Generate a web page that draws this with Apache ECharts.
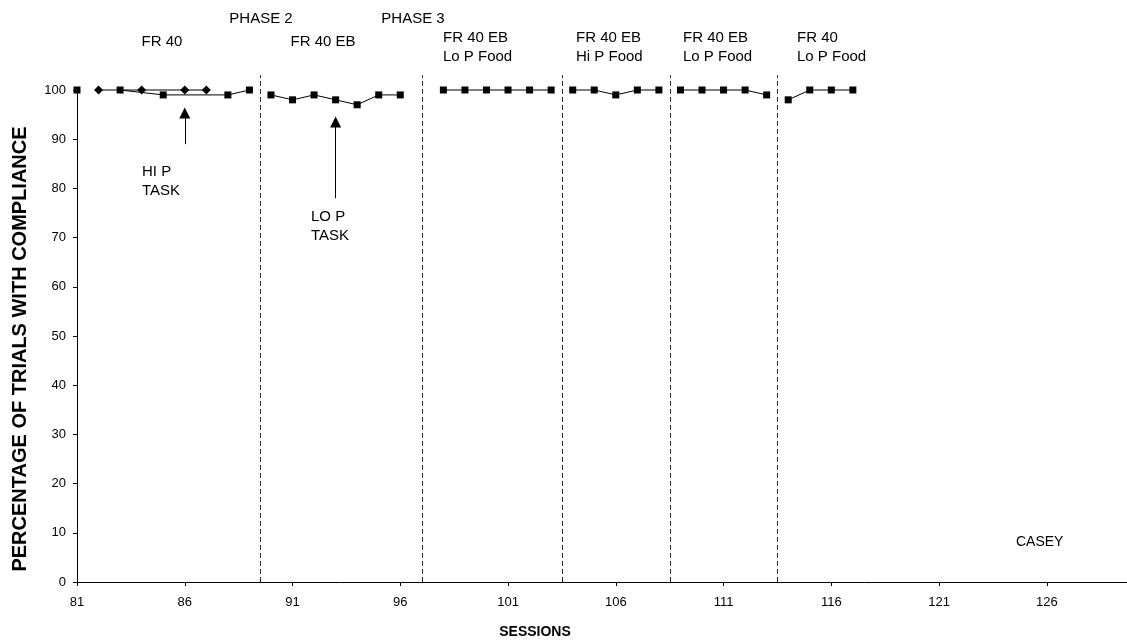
<!DOCTYPE html>
<html>
<head>
<meta charset="utf-8">
<script src="https://cdn.jsdelivr.net/npm/echarts@6/dist/echarts.min.js"></script>
<style>
html,body{margin:0;padding:0;background:#fff;}
#c{width:1127px;height:644px;}
</style>
</head>
<body>
<div id="c"></div>
<script>
// ---- data ----
const xTickStart = 81;
const xTickStep = 5;
const yTicks = [0, 10, 20, 30, 40, 50, 60, 70, 80, 90, 100];

const baselineSessions = [81];
const baselineValues = [100];

const hiPSessions = [82, 84, 86, 87];
const hiPValues = [100, 100, 100, 100];

const loPSessions = [83, 85, 88, 89];
const loPValues = [100, 99, 99, 100];

const phase2Sessions = [90, 91, 92, 93, 94, 95, 96];
const phase2Values = [99, 98, 99, 98, 97, 99, 99];

const loFoodEBSessions = [98, 99, 100, 101, 102, 103];
const loFoodEBValues = [100, 100, 100, 100, 100, 100];

const hiFoodEBSessions = [104, 105, 106, 107, 108];
const hiFoodEBValues = [100, 100, 99, 100, 100];

const loFoodEB2Sessions = [109, 110, 111, 112, 113];
const loFoodEB2Values = [100, 100, 100, 100, 99];

const loFoodSessions = [114, 115, 116, 117];
const loFoodValues = [98, 100, 100, 100];

const phaseLineSessions = [89.5, 97, 103.5, 108.5, 113.5];
const phaseLineTop = 103;

// arrows: [session, fromValue, toValue]
const hiPArrow = [86, 89, 95.3];
const loPArrow = [93, 78, 93.5];

// ---- chart ----
const FONT = '"Liberation Sans", Arial, sans-serif';
const zip = (xs, ys) => xs.map((x, i) => [x, ys[i]]);

function lineSeries(xs, ys, symbol, size) {
  return {
    type: 'line',
    data: zip(xs, ys),
    symbol: symbol,
    symbolSize: size,
    showSymbol: true,
    clip: false,
    animation: false,
    lineStyle: { color: '#000', width: 1 },
    itemStyle: { color: '#000', borderWidth: 0 },
    emphasis: { disabled: true },
    z: 3
  };
}

const chart = echarts.init(document.getElementById('c'), null, { renderer: 'canvas' });

const series = [
  lineSeries(baselineSessions, baselineValues, 'rect', 7),
  lineSeries(hiPSessions, hiPValues, 'diamond', 9),
  lineSeries(loPSessions, loPValues, 'rect', 7),
  lineSeries(phase2Sessions, phase2Values, 'rect', 7),
  lineSeries(loFoodEBSessions, loFoodEBValues, 'rect', 7),
  lineSeries(hiFoodEBSessions, hiFoodEBValues, 'rect', 7),
  lineSeries(loFoodEB2Sessions, loFoodEB2Values, 'rect', 7),
  lineSeries(loFoodSessions, loFoodValues, 'rect', 7),
  // phase change lines (dashed, reaching slightly above the 100 level)
  {
    type: 'custom',
    clip: false,
    animation: false,
    silent: true,
    data: phaseLineSessions.map(s => [s, 0]),
    encode: { x: 0, y: 1 },
    renderItem: function (params, api) {
      const s = api.value(0);
      const p0 = api.coord([s, 0]);
      const p1 = api.coord([s, phaseLineTop]);
      const x = Math.round(p0[0]) + 0.5;
      return {
        type: 'line',
        shape: { x1: x, y1: p0[1], x2: x, y2: p1[1] },
        style: { stroke: '#222', lineWidth: 1, lineDash: [5, 3] }
      };
    },
    z: 2
  },
  // arrows
  {
    type: 'line',
    data: [],
    clip: false,
    animation: false,
    markLine: {
      silent: true,
      animation: false,
      symbol: ['none', 'triangle'],
      symbolSize: [11, 11],
      label: { show: false },
      lineStyle: { color: '#000', width: 1, type: 'solid' },
      emphasis: { disabled: true },
      data: [hiPArrow, loPArrow].map(a => [{ coord: [a[0], a[1]] }, { coord: [a[0], a[2]] }])
    }
  }
];

function txt(text, x, y, opts) {
  return {
    type: 'text',
    x: x, y: y,
    rotation: (opts && opts.rotation) || 0,
    style: Object.assign({
      text: text,
      font: '15px ' + FONT,
      fill: '#000',
      textAlign: 'left',
      textVerticalAlign: 'middle',
      lineHeight: 19
    }, (opts && opts.style) || {})
  };
}

chart.setOption({
  backgroundColor: '#fff',
  animation: false,
  grid: { left: 77, right: 0, top: 90, bottom: 62, containLabel: false },
  xAxis: {
    type: 'value',
    min: xTickStart,
    max: 129.72,
    interval: xTickStep,
    axisLine: { show: true, lineStyle: { color: '#000', width: 1 } },
    axisTick: { show: true, length: 4, lineStyle: { color: '#000' } },
    splitLine: { show: false },
    axisLabel: {
      show: true, color: '#000', fontSize: 13, fontFamily: FONT, margin: 14,
      showMaxLabel: false,
      formatter: v => (Math.abs(v - Math.round(v)) < 1e-6 ? String(Math.round(v)) : '')
    }
  },
  yAxis: {
    type: 'value',
    min: yTicks[0],
    max: yTicks[yTicks.length - 1],
    interval: yTicks[1] - yTicks[0],
    axisLine: { show: true, lineStyle: { color: '#000', width: 1 } },
    axisTick: { show: true, length: 4, lineStyle: { color: '#000' } },
    splitLine: { show: false },
    axisLabel: { color: '#000', fontSize: 13, fontFamily: FONT, margin: 11 }
  },
  series: series,
  graphic: [
    txt('PHASE 2', 261, 19, { style: { textAlign: 'center' } }),
    txt('PHASE 3', 413, 19, { style: { textAlign: 'center' } }),
    txt('FR 40', 162, 42, { style: { textAlign: 'center' } }),
    txt('FR 40 EB', 323, 42, { style: { textAlign: 'center' } }),
    txt('FR 40 EB\nLo P Food', 443, 47),
    txt('FR 40 EB\nHi P Food', 576, 47),
    txt('FR 40 EB\nLo P Food', 683, 47),
    txt('FR 40\nLo P Food', 797, 47),
    txt('HI P\nTASK', 142, 181),
    txt('LO P\nTASK', 311, 226),
    txt('CASEY', 1016, 542, { style: { font: '14px ' + FONT } }),
    txt('SESSIONS', 535, 632, { style: { textAlign: 'center', font: 'bold 14px ' + FONT } }),
    txt('PERCENTAGE OF TRIALS WITH COMPLIANCE', 20, 349, {
      rotation: Math.PI / 2,
      style: { textAlign: 'center', font: 'bold 20px ' + FONT }
    })
  ]
});
</script>
</body>
</html>
